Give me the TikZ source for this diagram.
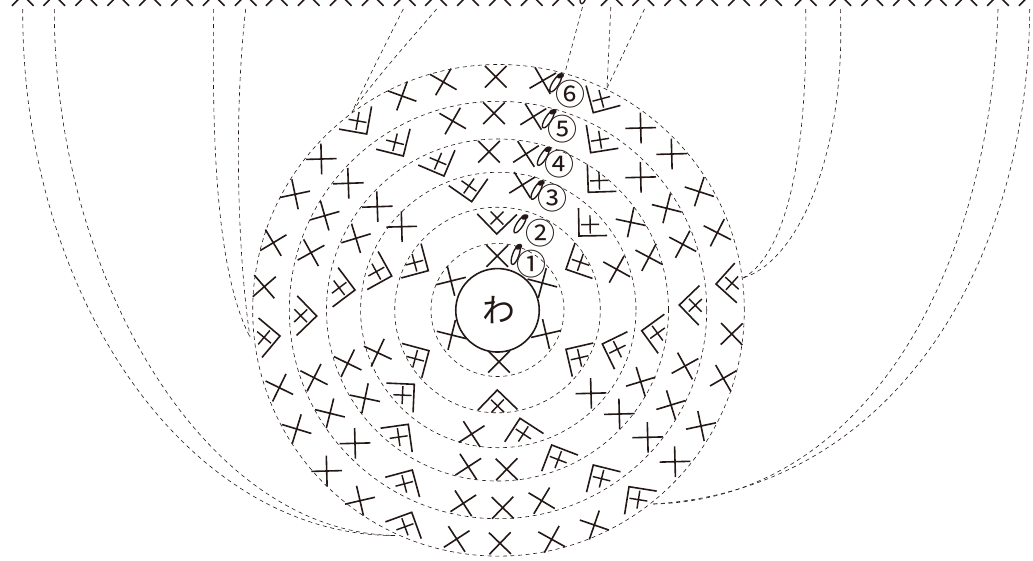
\documentclass[tikz,border=0pt]{standalone}
\usepackage{fontspec}
\newfontfamily\jpfont{Noto Sans CJK JP}
\definecolor{ink}{HTML}{231815}
\tikzset{
  stitchline/.style={draw=ink,line width=1.6pt},
  dashline/.style={draw=ink,line width=0.6pt,dash pattern=on 4pt off 3.6pt},
  ringnode/.style={circle,draw=ink,line width=0.6pt,dash pattern=on 4pt off 3.6pt,inner sep=0pt,outer sep=0pt},
  numlabel/.style={inner sep=0pt,text=ink,font=\jpfont\fontsize{30}{30}\selectfont},
}
\newcommand{\crossat}[3]{\begin{scope}[shift={(#1,#2)},rotate=#3]
  \draw[stitchline] (-15.3,0)--(15.3,0) (0,-15.3)--(0,15.3);\end{scope}}
\newcommand{\incat}[3]{\begin{scope}[shift={(#1,#2)},rotate=#3]
  \draw[stitchline,line join=miter] (19.8,19.8)--(0,0)--(19.8,-19.8);
  \draw[stitchline,line width=1.45pt] (9.6,6.4)--(22.4,-6.4) (9.6,-6.4)--(22.4,6.4);\end{scope}}
\newcommand{\slipat}[3]{\begin{scope}[shift={(#1,#2)},rotate=#3]
  \draw[draw=ink,line width=1.35pt] (0,0) ellipse [x radius=10,y radius=3.2];
  \fill[ink,rotate around={-40:(8.8,0)}] (8.8,0) ellipse [x radius=3.8,y radius=2.7];\end{scope}}
\begin{document}
\begin{tikzpicture}[x=1pt,y=-1pt]
\useasboundingbox (0,0) rectangle (1033,560);
\clip (0,0) rectangle (1033,560);
% centre ring and rounds
\node[circle,draw=ink,line width=1.6pt,minimum size=83.5pt,inner sep=0pt,outer sep=0pt] (hub) at (497.5,310.3) {};
\node[inner sep=0pt,text=ink,font=\jpfont\fontsize{33}{33}\selectfont] (hubtext) at (498.5,310.3) {わ};
\node[ringnode,minimum size=133pt] (ringA) at (497.5,310) {};
\node[ringnode,minimum size=205.6pt] (ringB) at (497.5,310) {};
\node[ringnode,minimum size=275.4pt] (ringC) at (498.3,310) {};
\node[ringnode,minimum size=342pt] (ringD) at (497.5,310) {};
\node[ringnode,minimum size=417.4pt] (ringE) at (498,310) {};
\node[ringnode,minimum size=491.6pt] (ringF) at (498.5,310.3) {};
% plain stitches
\foreach \x/\y/\r in {
 497.3/256/45, 542.3/283/-15, 546/334/13, 499/361.7/45, 451.7/335/-14, 451/281/14,
 401.7/226.7/1.5, 522.3/185/32, 616.7/269.3/-29, 591/393.3/1.5, 471.7/434/33, 377.7/352.7/-25,
 377.3/206.7/2, 356/238.3/17, 489/151.7/45, 526/154/33, 630.7/222.3/-12, 649/257.3/-28,
 640.7/381.7/17, 619.3/414/1.5, 506.7/469.3/46, 468.3/466.7/33, 347.7/363.3/-26, 365/398.3/-12,
 348.3/183.3/2, 324.7/215.7/16, 311/252.7/29, 452.7/121/-30, 494/113.3/45, 533.3/116.7/32,
 640.7/177.3/1.5, 666.7/208.3/-14, 682.7/244.3/-28, 685/366/29, 671/405/17, 647.7/437.3/1.5,
 541.7/500.7/-31, 502.7/507.7/46, 463.3/503.3/33, 355/443.3/1.5, 330/413.3/-14, 314/377.7/-27,
 443.3/82/-30, 402/96/-20, 495.7/76.7/45, 542.7/80.7/30, 640.7/128/1.5, 671.7/154/1.5,
 699.3/191.7/-18, 717.3/232.7/-27, 731.7/334/-46, 723.3/378.3/30, 701/426/12, 675/461.7/1.5,
 594.3/525/-19, 551.7/539.3/-29, 500/543.3/46, 456.7/539/33, 360/500.7/13, 326.7/471/1.5,
 296.7/429/-17, 279.3/387.7/-26, 264.3/286.7/41, 273.3/242.7/31, 295/194.3/12, 321.3/159/1.5}
 {\crossat{\x}{\y}{\r}}
% increase stitches
\foreach \x/\y/\r in {
 496.7/234/89, 566/269.3/26, 566/349.3/-32, 497.3/390/-89, 429/350.7/-150, 428.3/270.7/150,
 471.7/201.7/100, 579/236/46, 602.3/344/-19, 520/418.3/-78, 414.3/384.3/-137.5, 391.7/276/164,
 444/176/112, 588.3/192.3/47, 641.7/330.7/-9, 551.7/445/-66, 408.3/424.3/-127, 355/290/172,
 403.3/156/121, 590.7/152.7/54, 679.3/305/-1, 593.3/465/-59, 412.3/470/-120, 316.7/316/179,
 366.7/134/125, 593.3/112.7/60, 716/284/3, 629/486.7/-54, 411.7/512.3/-115, 280/336/185}
 {\incat{\x}{\y}{\r}}
% chain row along the top edge
\foreach \x in {22.7,54.3,86.3,118.3,150,182,213.7,245.7,276.7,308.7,340.7,372.7,404.7,436,468,500,
 531.7,563.3,611.7,643.3,675.3,707,739,771,805.7,840.3,872.3,904,935.7,966.3,998,1029.7}
 {\crossat{\x}{-5}{45}}
% slip stitches
\slipat{515.7}{255}{70}
\slipat{520}{224.3}{57}
\slipat{536.7}{190.5}{60}
\slipat{543.3}{156.7}{58}
\slipat{548.3}{119.3}{58}
\slipat{555.7}{83.3}{58}
\slipat{584}{-6}{75}
% round numbers
\node[numlabel] (n1) at (531.7,264.3) {①};
\node[numlabel] (n2) at (540,233.3) {②};
\node[numlabel] (n3) at (552.3,197.7) {③};
\node[numlabel] (n4) at (559,164) {④};
\node[numlabel] (n5) at (562.7,129.3) {⑤};
\node[numlabel] (n6) at (570,94.3) {⑥};
% connector ends
\coordinate (t1) at (22.7,9);   \coordinate (t2) at (54.3,9);
\coordinate (t3) at (213.7,9);  \coordinate (t4) at (245.7,9);
\coordinate (t5) at (403.3,9);  \coordinate (t6) at (436.7,9);
\coordinate (t7) at (582.5,7);  \coordinate (t8) at (610.8,7);
\coordinate (t9) at (644.5,9);  \coordinate (t10) at (805.7,9);
\coordinate (t11) at (840.3,9); \coordinate (t12) at (998,9);
\coordinate (t13) at (1029.7,9);
\coordinate (eBL) at (395,535.5);
\coordinate (eL) at (250,337);
\coordinate (eTL) at (352,112);
\coordinate (eT) at (565,72.5);
\coordinate (eTR) at (607,88);
\coordinate (eR) at (743,278);
\coordinate (eBR) at (653,504);
% connectors
\draw[dashline] (t1) .. controls (22,300) and (190,536) .. (eBL);
\draw[dashline] (t2) .. controls (54,270) and (200,532) .. (eBL);
\draw[dashline] (t3) .. controls (212,130) and (215,270) .. (eL);
\draw[dashline] (t4) .. controls (234,110) and (237,250) .. (eL);
\draw[dashline] (t5) .. controls (390,35) and (365,85) .. (eTL);
\draw[dashline] (t6) .. controls (410,40) and (370,85) .. (eTL);
\draw[dashline] (t7) -- (eT);
\draw[dashline] (t8) -- (eTR);
\draw[dashline] (t9) -- (eTR);
\draw[dashline] (t10) .. controls (808,160) and (785,255) .. (eR);
\draw[dashline] (t11) .. controls (846,150) and (800,260) .. (eR);
\draw[dashline] (t12) .. controls (990,280) and (860,500) .. (eBR);
\draw[dashline] (t13) .. controls (1028,270) and (890,490) .. (eBR);
\end{tikzpicture}
\end{document}
